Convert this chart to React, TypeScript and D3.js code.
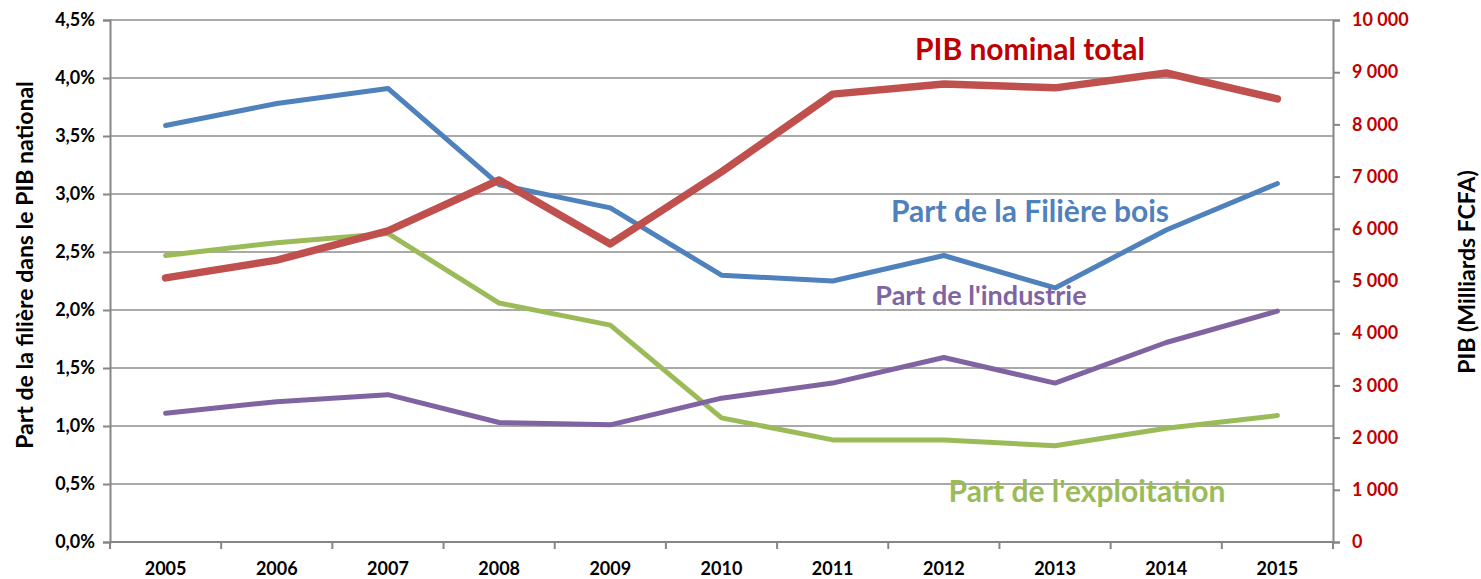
import React, { useEffect, useRef } from "react"
import * as d3 from "d3"

const years = ["2005", "2006", "2007", "2008", "2009", "2010", "2011", "2012", "2013", "2014", "2015"]
const filiereBois = [3.59, 3.78, 3.91, 3.08, 2.88, 2.3, 2.25, 2.47, 2.19, 2.69, 3.09]
const exploitation = [2.47, 2.58, 2.66, 2.06, 1.87, 1.07, 0.88, 0.88, 0.83, 0.98, 1.09]
const industrie = [1.11, 1.21, 1.27, 1.03, 1.01, 1.24, 1.37, 1.59, 1.37, 1.72, 1.99]
const pibNominal = [5060, 5400, 5960, 6935, 5710, 7090, 8580, 8775, 8700, 8985, 8490]
const leftTicks = [0, 0.5, 1, 1.5, 2, 2.5, 3, 3.5, 4, 4.5]
const rightTicks = [0, 1000, 2000, 3000, 4000, 5000, 6000, 7000, 8000, 9000, 10000]

const W = 1481
const H = 579
const FONT = "Lato, 'Open Sans', sans-serif"

export default function App() {
  const ref = useRef<SVGSVGElement>(null)

  useEffect(() => {
    const svg = d3.select(ref.current)
    svg.selectAll("*").remove()

    const left = 110
    const right = 1333
    const top = 20
    const bottom = 542

    const x = d3.scaleBand().domain(years).range([left, right])
    const yL = d3.scaleLinear().domain([0, 4.5]).range([bottom, top])
    const yR = d3.scaleLinear().domain([0, 10000]).range([bottom, top])
    const cx = (d: string) => (x(d) as number) + x.bandwidth() / 2

    // gridlines
    svg.append("g")
      .selectAll("line")
      .data(leftTicks.filter(t => t > 0))
      .enter()
      .append("line")
      .attr("x1", left)
      .attr("x2", right)
      .attr("y1", d => yL(d))
      .attr("y2", d => yL(d))
      .attr("stroke", "#8c8c8c")
      .attr("stroke-width", 1.5)

    // left axis
    const gl = svg.append("g").attr("transform", `translate(${left},0)`)
      .call(d3.axisLeft(yL).tickValues(leftTicks).tickSize(7).tickPadding(8)
        .tickFormat(d => d3.format(".1f")(d as number).replace(".", ",") + "%"))
    gl.select(".domain").attr("stroke", "#868686").attr("stroke-width", 2)
    gl.selectAll(".tick line").attr("stroke", "#868686").attr("stroke-width", 2)
    gl.selectAll("text").attr("font-family", FONT).attr("font-weight", "bold")
      .attr("font-size", 18).attr("fill", "#000")

    // right axis
    const gr = svg.append("g").attr("transform", `translate(${right},0)`)
      .call(d3.axisRight(yR).tickValues(rightTicks).tickSize(7).tickPadding(12)
        .tickFormat(d => d3.format(",")(d as number).replace(/,/g, " ")))
    gr.select(".domain").attr("stroke", "#868686").attr("stroke-width", 2)
    gr.selectAll(".tick line").attr("stroke", "#868686").attr("stroke-width", 2)
    gr.selectAll("text").attr("font-family", FONT).attr("font-weight", "bold")
      .attr("font-size", 18).attr("fill", "#c00000")

    // bottom axis
    svg.append("line")
      .attr("x1", left).attr("x2", right).attr("y1", bottom).attr("y2", bottom)
      .attr("stroke", "#868686").attr("stroke-width", 2)
    const bounds = years.map(d => x(d) as number).concat([right])
    svg.append("g")
      .selectAll("line")
      .data(bounds)
      .enter()
      .append("line")
      .attr("x1", d => d).attr("x2", d => d)
      .attr("y1", bottom).attr("y2", bottom + 7)
      .attr("stroke", "#868686").attr("stroke-width", 2)
    svg.append("g")
      .selectAll("text")
      .data(years)
      .enter()
      .append("text")
      .attr("x", d => cx(d))
      .attr("y", 575)
      .attr("text-anchor", "middle")
      .attr("font-family", FONT).attr("font-weight", "bold").attr("font-size", 18)
      .text(d => d)

    // lines
    const series: [number[], (v: number) => number, string, number][] = [
      [exploitation, yL, "#9bbb59", 5],
      [industrie, yL, "#8064a2", 5],
      [filiereBois, yL, "#4f81bd", 5],
      [pibNominal, yR, "#c0504d", 7.5],
    ]
    series.forEach(([vals, sc, color, w]) => {
      const line = d3.line<number>()
        .x((_, i) => cx(years[i]))
        .y(v => sc(v))
      svg.append("path")
        .datum(vals)
        .attr("d", line)
        .attr("fill", "none")
        .attr("stroke", color)
        .attr("stroke-width", w)
        .attr("stroke-linecap", "round")
        .attr("stroke-linejoin", "round")
    })

    // labels
    const labels: [string, number, number, string, number][] = [
      ["PIB nominal total", 1030, 60, "#c00000", 30],
      ["Part de la Filière bois", 1030, 222, "#4f81bd", 30],
      ["Part de l'industrie", 981, 305, "#8064a2", 27],
      ["Part de l'exploitation", 1087, 502, "#9bbb59", 30],
    ]
    labels.forEach(([t, lx, ly, c, fs]) => {
      svg.append("text")
        .attr("x", lx).attr("y", ly)
        .attr("text-anchor", "middle")
        .attr("font-family", FONT).attr("font-weight", "bold").attr("font-size", fs)
        .attr("fill", c)
        .text(t)
    })

    // axis titles
    svg.append("text")
      .attr("transform", "translate(33,265) rotate(-90)")
      .attr("text-anchor", "middle")
      .attr("font-family", FONT).attr("font-weight", "bold").attr("font-size", 23)
      .text("Part de la filière dans le PIB national")
    svg.append("text")
      .attr("transform", "translate(1475,272) rotate(-90)")
      .attr("text-anchor", "middle")
      .attr("font-family", FONT).attr("font-weight", "bold").attr("font-size", 23)
      .text("PIB (Milliards FCFA)")
  }, [])

  return (
    <svg ref={ref} width={W} height={H}
      style={{ position: "absolute", left: 0, top: 0, background: "#fff" }} />
  )
}
